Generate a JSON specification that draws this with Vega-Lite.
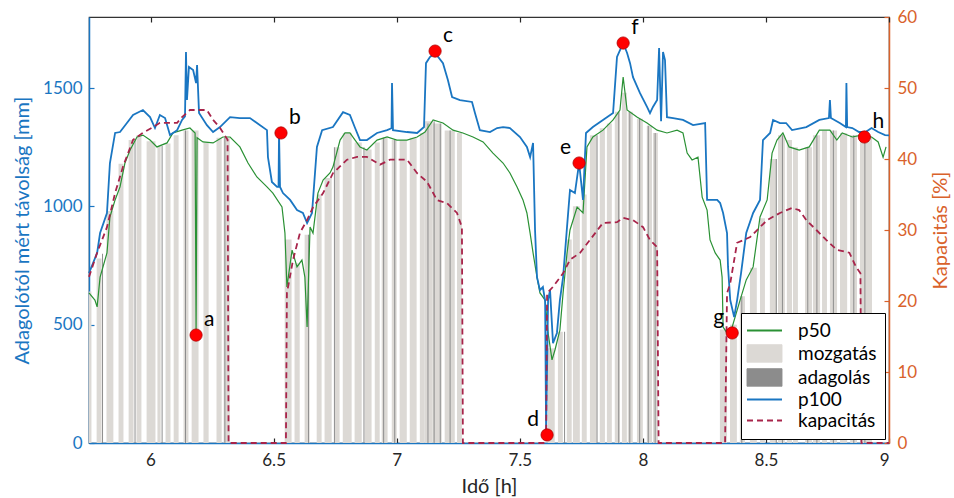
{
  "$schema": "https://vega.github.io/schema/vega-lite/v6.json",
  "width": 800,
  "height": 426,
  "autosize": {"type": "none"},
  "padding": {"left": 89, "top": 17, "right": 65, "bottom": 55},
  "background": "white",
  "config": {
    "font": "Lato",
    "view": {"stroke": "#333333", "strokeWidth": 1.2},
    "axis": {
      "grid": false,
      "labelFont": "Lato",
      "titleFont": "Lato",
      "labelFontSize": 17,
      "titleFontSize": 20,
      "titleFontWeight": "normal",
      "tickSize": -5,
      "tickWidth": 1.2,
      "domainWidth": 1.5,
      "zindex": 1
    }
  },
  "datasets": {
    "savok": [
      {"tipus": "mozgatás", "ido": 5.750, "ido2": 5.760, "tav": 640},
      {"tipus": "mozgatás", "ido": 5.781, "ido2": 5.801, "tav": 780},
      {"tipus": "mozgatás", "ido": 5.821, "ido2": 5.849, "tav": 980},
      {"tipus": "mozgatás", "ido": 5.870, "ido2": 5.890, "tav": 1180},
      {"tipus": "mozgatás", "ido": 5.911, "ido2": 5.931, "tav": 1280},
      {"tipus": "mozgatás", "ido": 5.943, "ido2": 5.963, "tav": 1300},
      {"tipus": "mozgatás", "ido": 5.984, "ido2": 6.020, "tav": 1275},
      {"tipus": "mozgatás", "ido": 6.028, "ido2": 6.041, "tav": 1255},
      {"tipus": "mozgatás", "ido": 6.061, "ido2": 6.081, "tav": 1265},
      {"tipus": "mozgatás", "ido": 6.094, "ido2": 6.114, "tav": 1300},
      {"tipus": "mozgatás", "ido": 6.134, "ido2": 6.154, "tav": 1320},
      {"tipus": "mozgatás", "ido": 6.167, "ido2": 6.195, "tav": 1320},
      {"tipus": "mozgatás", "ido": 6.215, "ido2": 6.236, "tav": 1270},
      {"tipus": "mozgatás", "ido": 6.268, "ido2": 6.289, "tav": 1290},
      {"tipus": "mozgatás", "ido": 6.297, "ido2": 6.322, "tav": 1290},
      {"tipus": "mozgatás", "ido": 6.545, "ido2": 6.573, "tav": 860},
      {"tipus": "mozgatás", "ido": 6.585, "ido2": 6.606, "tav": 760},
      {"tipus": "mozgatás", "ido": 6.626, "ido2": 6.646, "tav": 880},
      {"tipus": "mozgatás", "ido": 6.675, "ido2": 6.695, "tav": 1050},
      {"tipus": "mozgatás", "ido": 6.707, "ido2": 6.736, "tav": 1120},
      {"tipus": "mozgatás", "ido": 6.748, "ido2": 6.768, "tav": 1250},
      {"tipus": "mozgatás", "ido": 6.781, "ido2": 6.817, "tav": 1310},
      {"tipus": "mozgatás", "ido": 6.829, "ido2": 6.858, "tav": 1270},
      {"tipus": "mozgatás", "ido": 6.870, "ido2": 6.898, "tav": 1240},
      {"tipus": "mozgatás", "ido": 6.911, "ido2": 6.931, "tav": 1270},
      {"tipus": "mozgatás", "ido": 6.939, "ido2": 6.963, "tav": 1290},
      {"tipus": "mozgatás", "ido": 6.980, "ido2": 7.000, "tav": 1280},
      {"tipus": "mozgatás", "ido": 7.012, "ido2": 7.041, "tav": 1280},
      {"tipus": "mozgatás", "ido": 7.053, "ido2": 7.081, "tav": 1290},
      {"tipus": "mozgatás", "ido": 7.094, "ido2": 7.114, "tav": 1310},
      {"tipus": "mozgatás", "ido": 7.114, "ido2": 7.146, "tav": 1360},
      {"tipus": "mozgatás", "ido": 7.146, "ido2": 7.183, "tav": 1350},
      {"tipus": "mozgatás", "ido": 7.195, "ido2": 7.236, "tav": 1320},
      {"tipus": "mozgatás", "ido": 7.245, "ido2": 7.265, "tav": 1310},
      {"tipus": "mozgatás", "ido": 7.614, "ido2": 7.642, "tav": 400},
      {"tipus": "mozgatás", "ido": 7.655, "ido2": 7.675, "tav": 470},
      {"tipus": "mozgatás", "ido": 7.691, "ido2": 7.711, "tav": 860},
      {"tipus": "mozgatás", "ido": 7.716, "ido2": 7.744, "tav": 1000},
      {"tipus": "mozgatás", "ido": 7.752, "ido2": 7.772, "tav": 1050},
      {"tipus": "mozgatás", "ido": 7.785, "ido2": 7.813, "tav": 1300},
      {"tipus": "mozgatás", "ido": 7.825, "ido2": 7.846, "tav": 1330},
      {"tipus": "mozgatás", "ido": 7.854, "ido2": 7.874, "tav": 1350},
      {"tipus": "mozgatás", "ido": 7.886, "ido2": 7.907, "tav": 1400},
      {"tipus": "mozgatás", "ido": 7.915, "ido2": 7.935, "tav": 1480},
      {"tipus": "mozgatás", "ido": 7.939, "ido2": 7.959, "tav": 1400},
      {"tipus": "mozgatás", "ido": 7.976, "ido2": 8.000, "tav": 1370},
      {"tipus": "mozgatás", "ido": 8.016, "ido2": 8.037, "tav": 1340},
      {"tipus": "mozgatás", "ido": 8.041, "ido2": 8.061, "tav": 1310},
      {"tipus": "mozgatás", "ido": 8.313, "ido2": 8.342, "tav": 480},
      {"tipus": "mozgatás", "ido": 8.354, "ido2": 8.382, "tav": 500},
      {"tipus": "mozgatás", "ido": 8.394, "ido2": 8.415, "tav": 620},
      {"tipus": "mozgatás", "ido": 8.435, "ido2": 8.463, "tav": 740},
      {"tipus": "mozgatás", "ido": 8.476, "ido2": 8.496, "tav": 950},
      {"tipus": "mozgatás", "ido": 8.516, "ido2": 8.545, "tav": 1200},
      {"tipus": "mozgatás", "ido": 8.549, "ido2": 8.577, "tav": 1300},
      {"tipus": "mozgatás", "ido": 8.585, "ido2": 8.606, "tav": 1280},
      {"tipus": "mozgatás", "ido": 8.610, "ido2": 8.630, "tav": 1250},
      {"tipus": "mozgatás", "ido": 8.659, "ido2": 8.687, "tav": 1250},
      {"tipus": "mozgatás", "ido": 8.691, "ido2": 8.720, "tav": 1300},
      {"tipus": "mozgatás", "ido": 8.728, "ido2": 8.748, "tav": 1320},
      {"tipus": "mozgatás", "ido": 8.760, "ido2": 8.789, "tav": 1320},
      {"tipus": "mozgatás", "ido": 8.801, "ido2": 8.830, "tav": 1310},
      {"tipus": "mozgatás", "ido": 8.842, "ido2": 8.870, "tav": 1300},
      {"tipus": "mozgatás", "ido": 8.882, "ido2": 8.931, "tav": 1290},
      {"tipus": "adagolás", "ido": 5.803, "ido2": 5.807, "tav": 800},
      {"tipus": "adagolás", "ido": 5.935, "ido2": 5.939, "tav": 1280},
      {"tipus": "adagolás", "ido": 6.045, "ido2": 6.049, "tav": 1255},
      {"tipus": "adagolás", "ido": 6.140, "ido2": 6.144, "tav": 1320},
      {"tipus": "adagolás", "ido": 6.300, "ido2": 6.304, "tav": 1290},
      {"tipus": "adagolás", "ido": 6.640, "ido2": 6.644, "tav": 880},
      {"tipus": "adagolás", "ido": 6.745, "ido2": 6.749, "tav": 1250},
      {"tipus": "adagolás", "ido": 6.865, "ido2": 6.869, "tav": 1250},
      {"tipus": "adagolás", "ido": 6.945, "ido2": 6.949, "tav": 1290},
      {"tipus": "adagolás", "ido": 6.990, "ido2": 6.994, "tav": 1280},
      {"tipus": "adagolás", "ido": 7.125, "ido2": 7.129, "tav": 1350},
      {"tipus": "adagolás", "ido": 7.150, "ido2": 7.154, "tav": 1360},
      {"tipus": "adagolás", "ido": 7.175, "ido2": 7.179, "tav": 1350},
      {"tipus": "adagolás", "ido": 7.215, "ido2": 7.219, "tav": 1320},
      {"tipus": "adagolás", "ido": 7.680, "ido2": 7.684, "tav": 470},
      {"tipus": "adagolás", "ido": 7.812, "ido2": 7.816, "tav": 1300},
      {"tipus": "adagolás", "ido": 7.900, "ido2": 7.904, "tav": 1400},
      {"tipus": "adagolás", "ido": 7.945, "ido2": 7.949, "tav": 1400},
      {"tipus": "adagolás", "ido": 7.985, "ido2": 7.989, "tav": 1370},
      {"tipus": "adagolás", "ido": 8.020, "ido2": 8.024, "tav": 1340},
      {"tipus": "adagolás", "ido": 8.048, "ido2": 8.052, "tav": 1310},
      {"tipus": "adagolás", "ido": 8.400, "ido2": 8.404, "tav": 620},
      {"tipus": "adagolás", "ido": 8.540, "ido2": 8.544, "tav": 1200},
      {"tipus": "adagolás", "ido": 8.565, "ido2": 8.569, "tav": 1300},
      {"tipus": "adagolás", "ido": 8.668, "ido2": 8.672, "tav": 1250},
      {"tipus": "adagolás", "ido": 8.705, "ido2": 8.709, "tav": 1300},
      {"tipus": "adagolás", "ido": 8.772, "ido2": 8.776, "tav": 1320},
      {"tipus": "adagolás", "ido": 8.855, "ido2": 8.859, "tav": 1300},
      {"tipus": "adagolás", "ido": 8.900, "ido2": 8.904, "tav": 1290}
    ],
    "p50": [
      {"ido": 5.750, "tav": 634}, {"ido": 5.774, "tav": 604}, {"ido": 5.783, "tav": 575},
      {"ido": 5.795, "tav": 701}, {"ido": 5.823, "tav": 803}, {"ido": 5.835, "tav": 955},
      {"ido": 5.856, "tav": 1027}, {"ido": 5.876, "tav": 1082}, {"ido": 5.896, "tav": 1183},
      {"ido": 5.917, "tav": 1238}, {"ido": 5.945, "tav": 1293}, {"ido": 5.969, "tav": 1301},
      {"ido": 5.998, "tav": 1280}, {"ido": 6.026, "tav": 1251}, {"ido": 6.067, "tav": 1268},
      {"ido": 6.091, "tav": 1310}, {"ido": 6.128, "tav": 1322}, {"ido": 6.160, "tav": 1331},
      {"ido": 6.181, "tav": 1310}, {"ido": 6.185, "tav": 465}, {"ido": 6.189, "tav": 1290},
      {"ido": 6.213, "tav": 1272}, {"ido": 6.254, "tav": 1268}, {"ido": 6.294, "tav": 1293},
      {"ido": 6.323, "tav": 1293}, {"ido": 6.363, "tav": 1251}, {"ido": 6.396, "tav": 1183},
      {"ido": 6.432, "tav": 1124}, {"ido": 6.473, "tav": 1082}, {"ido": 6.497, "tav": 1056},
      {"ido": 6.534, "tav": 997}, {"ido": 6.546, "tav": 887}, {"ido": 6.554, "tav": 659},
      {"ido": 6.575, "tav": 815}, {"ido": 6.595, "tav": 744}, {"ido": 6.615, "tav": 773},
      {"ido": 6.627, "tav": 701}, {"ido": 6.636, "tav": 490}, {"ido": 6.648, "tav": 913},
      {"ido": 6.660, "tav": 887}, {"ido": 6.680, "tav": 1056}, {"ido": 6.701, "tav": 1111},
      {"ido": 6.729, "tav": 1141}, {"ido": 6.741, "tav": 1166}, {"ido": 6.770, "tav": 1280},
      {"ido": 6.790, "tav": 1310}, {"ido": 6.810, "tav": 1310}, {"ido": 6.831, "tav": 1280},
      {"ido": 6.851, "tav": 1251}, {"ido": 6.879, "tav": 1238}, {"ido": 6.920, "tav": 1280},
      {"ido": 6.961, "tav": 1293}, {"ido": 7.001, "tav": 1280}, {"ido": 7.042, "tav": 1280},
      {"ido": 7.083, "tav": 1293}, {"ido": 7.115, "tav": 1314}, {"ido": 7.148, "tav": 1365},
      {"ido": 7.188, "tav": 1352}, {"ido": 7.229, "tav": 1322}, {"ido": 7.269, "tav": 1310},
      {"ido": 7.310, "tav": 1293}, {"ido": 7.351, "tav": 1272}, {"ido": 7.391, "tav": 1225},
      {"ido": 7.432, "tav": 1183}, {"ido": 7.460, "tav": 1141}, {"ido": 7.489, "tav": 1082},
      {"ido": 7.513, "tav": 1027}, {"ido": 7.529, "tav": 972}, {"ido": 7.542, "tav": 887},
      {"ido": 7.554, "tav": 803}, {"ido": 7.570, "tav": 701}, {"ido": 7.582, "tav": 634},
      {"ido": 7.603, "tav": 604}, {"ido": 7.615, "tav": 465}, {"ido": 7.631, "tav": 351},
      {"ido": 7.643, "tav": 393}, {"ido": 7.663, "tav": 477}, {"ido": 7.676, "tav": 634},
      {"ido": 7.692, "tav": 803}, {"ido": 7.704, "tav": 900}, {"ido": 7.733, "tav": 997},
      {"ido": 7.757, "tav": 972}, {"ido": 7.773, "tav": 1251}, {"ido": 7.797, "tav": 1293},
      {"ido": 7.838, "tav": 1322}, {"ido": 7.879, "tav": 1365}, {"ido": 7.907, "tav": 1407},
      {"ido": 7.920, "tav": 1546}, {"ido": 7.936, "tav": 1407}, {"ido": 7.976, "tav": 1377},
      {"ido": 8.017, "tav": 1352}, {"ido": 8.058, "tav": 1322}, {"ido": 8.098, "tav": 1310},
      {"ido": 8.139, "tav": 1322}, {"ido": 8.163, "tav": 1310}, {"ido": 8.180, "tav": 1225},
      {"ido": 8.200, "tav": 1196}, {"ido": 8.224, "tav": 1208}, {"ido": 8.241, "tav": 1039},
      {"ido": 8.261, "tav": 984}, {"ido": 8.273, "tav": 858}, {"ido": 8.294, "tav": 803},
      {"ido": 8.314, "tav": 773}, {"ido": 8.322, "tav": 701}, {"ido": 8.326, "tav": 490},
      {"ido": 8.342, "tav": 465}, {"ido": 8.363, "tav": 490}, {"ido": 8.395, "tav": 604},
      {"ido": 8.420, "tav": 689}, {"ido": 8.448, "tav": 744}, {"ido": 8.476, "tav": 955},
      {"ido": 8.505, "tav": 1027}, {"ido": 8.525, "tav": 1225}, {"ido": 8.545, "tav": 1280},
      {"ido": 8.569, "tav": 1310}, {"ido": 8.594, "tav": 1251}, {"ido": 8.635, "tav": 1238},
      {"ido": 8.676, "tav": 1251}, {"ido": 8.717, "tav": 1322}, {"ido": 8.760, "tav": 1322},
      {"ido": 8.788, "tav": 1280}, {"ido": 8.810, "tav": 1310}, {"ido": 8.851, "tav": 1293},
      {"ido": 8.888, "tav": 1301}, {"ido": 8.929, "tav": 1293}, {"ido": 8.956, "tav": 1272},
      {"ido": 8.976, "tav": 1208}, {"ido": 8.988, "tav": 1251}
    ],
    "p100": [
      {"ido": 5.750, "tav": 718}, {"ido": 5.783, "tav": 803}, {"ido": 5.795, "tav": 887},
      {"ido": 5.823, "tav": 972}, {"ido": 5.835, "tav": 1183}, {"ido": 5.856, "tav": 1310},
      {"ido": 5.876, "tav": 1314}, {"ido": 5.904, "tav": 1352}, {"ido": 5.929, "tav": 1386},
      {"ido": 5.969, "tav": 1407}, {"ido": 5.998, "tav": 1377}, {"ido": 6.018, "tav": 1331},
      {"ido": 6.038, "tav": 1386}, {"ido": 6.059, "tav": 1373}, {"ido": 6.079, "tav": 1301},
      {"ido": 6.108, "tav": 1322}, {"ido": 6.128, "tav": 1365}, {"ido": 6.140, "tav": 1380},
      {"ido": 6.144, "tav": 1652}, {"ido": 6.148, "tav": 1449}, {"ido": 6.156, "tav": 1589},
      {"ido": 6.173, "tav": 1576}, {"ido": 6.185, "tav": 1521}, {"ido": 6.189, "tav": 1597},
      {"ido": 6.197, "tav": 1394}, {"ido": 6.229, "tav": 1343}, {"ido": 6.254, "tav": 1314},
      {"ido": 6.282, "tav": 1335}, {"ido": 6.323, "tav": 1377}, {"ido": 6.363, "tav": 1373},
      {"ido": 6.404, "tav": 1373}, {"ido": 6.445, "tav": 1343}, {"ido": 6.473, "tav": 1322},
      {"ido": 6.477, "tav": 1208}, {"ido": 6.493, "tav": 1103}, {"ido": 6.514, "tav": 1082},
      {"ido": 6.520, "tav": 1082}, {"ido": 6.522, "tav": 1310}, {"ido": 6.526, "tav": 1082},
      {"ido": 6.538, "tav": 1056}, {"ido": 6.567, "tav": 1027}, {"ido": 6.595, "tav": 984},
      {"ido": 6.619, "tav": 972}, {"ido": 6.636, "tav": 929}, {"ido": 6.656, "tav": 972},
      {"ido": 6.676, "tav": 1251}, {"ido": 6.697, "tav": 1322}, {"ido": 6.741, "tav": 1335},
      {"ido": 6.782, "tav": 1398}, {"ido": 6.810, "tav": 1386}, {"ido": 6.831, "tav": 1331},
      {"ido": 6.851, "tav": 1280}, {"ido": 6.879, "tav": 1280}, {"ido": 6.920, "tav": 1310},
      {"ido": 6.961, "tav": 1322}, {"ido": 6.979, "tav": 1330}, {"ido": 6.981, "tav": 1521},
      {"ido": 6.985, "tav": 1322}, {"ido": 7.042, "tav": 1314}, {"ido": 7.083, "tav": 1310},
      {"ido": 7.111, "tav": 1335}, {"ido": 7.119, "tav": 1605}, {"ido": 7.135, "tav": 1631},
      {"ido": 7.156, "tav": 1648}, {"ido": 7.188, "tav": 1605}, {"ido": 7.208, "tav": 1534},
      {"ido": 7.225, "tav": 1462}, {"ido": 7.257, "tav": 1449}, {"ido": 7.306, "tav": 1441},
      {"ido": 7.318, "tav": 1394}, {"ido": 7.338, "tav": 1322}, {"ido": 7.379, "tav": 1314},
      {"ido": 7.408, "tav": 1331}, {"ido": 7.432, "tav": 1335}, {"ido": 7.460, "tav": 1331},
      {"ido": 7.501, "tav": 1293}, {"ido": 7.529, "tav": 1251}, {"ido": 7.542, "tav": 1208},
      {"ido": 7.554, "tav": 1268}, {"ido": 7.562, "tav": 900}, {"ido": 7.570, "tav": 701},
      {"ido": 7.582, "tav": 646}, {"ido": 7.594, "tav": 659}, {"ido": 7.603, "tav": 600},
      {"ido": 7.607, "tav": 42}, {"ido": 7.615, "tav": 604}, {"ido": 7.623, "tav": 646},
      {"ido": 7.635, "tav": 422}, {"ido": 7.651, "tav": 465}, {"ido": 7.663, "tav": 604},
      {"ido": 7.676, "tav": 701}, {"ido": 7.692, "tav": 913}, {"ido": 7.704, "tav": 1069},
      {"ido": 7.724, "tav": 1056}, {"ido": 7.741, "tav": 1183}, {"ido": 7.757, "tav": 1027},
      {"ido": 7.769, "tav": 1310}, {"ido": 7.797, "tav": 1335}, {"ido": 7.838, "tav": 1365},
      {"ido": 7.879, "tav": 1394}, {"ido": 7.895, "tav": 1631}, {"ido": 7.920, "tav": 1690},
      {"ido": 7.936, "tav": 1648}, {"ido": 7.948, "tav": 1605}, {"ido": 7.960, "tav": 1546},
      {"ido": 7.988, "tav": 1479}, {"ido": 8.017, "tav": 1420}, {"ido": 8.029, "tav": 1394},
      {"ido": 8.041, "tav": 1420}, {"ido": 8.058, "tav": 1449}, {"ido": 8.066, "tav": 1669},
      {"ido": 8.074, "tav": 1360}, {"ido": 8.082, "tav": 1652}, {"ido": 8.090, "tav": 1618},
      {"ido": 8.098, "tav": 1377}, {"ido": 8.123, "tav": 1373}, {"ido": 8.163, "tav": 1365},
      {"ido": 8.204, "tav": 1343}, {"ido": 8.253, "tav": 1352}, {"ido": 8.261, "tav": 1027},
      {"ido": 8.302, "tav": 1027}, {"ido": 8.314, "tav": 1014}, {"ido": 8.326, "tav": 972},
      {"ido": 8.342, "tav": 887}, {"ido": 8.346, "tav": 744}, {"ido": 8.355, "tav": 604},
      {"ido": 8.371, "tav": 532}, {"ido": 8.383, "tav": 604}, {"ido": 8.399, "tav": 718},
      {"ido": 8.420, "tav": 887}, {"ido": 8.448, "tav": 972}, {"ido": 8.476, "tav": 1027},
      {"ido": 8.488, "tav": 1280}, {"ido": 8.517, "tav": 1310}, {"ido": 8.529, "tav": 1365},
      {"ido": 8.557, "tav": 1352}, {"ido": 8.582, "tav": 1352}, {"ido": 8.606, "tav": 1322},
      {"ido": 8.664, "tav": 1335}, {"ido": 8.717, "tav": 1365}, {"ido": 8.756, "tav": 1373},
      {"ido": 8.760, "tav": 1449}, {"ido": 8.764, "tav": 1373}, {"ido": 8.800, "tav": 1352},
      {"ido": 8.825, "tav": 1335}, {"ido": 8.827, "tav": 1521}, {"ido": 8.830, "tav": 1335},
      {"ido": 8.851, "tav": 1331}, {"ido": 8.878, "tav": 1314}, {"ido": 8.905, "tav": 1314},
      {"ido": 8.929, "tav": 1331}, {"ido": 8.956, "tav": 1314}, {"ido": 8.984, "tav": 1301},
      {"ido": 9.000, "tav": 1300}
    ],
    "kapacitas": [
      {"ido": 5.750, "kap": 23.4}, {"ido": 5.783, "kap": 26.8}, {"ido": 5.823, "kap": 30.4},
      {"ido": 5.856, "kap": 35.2}, {"ido": 5.888, "kap": 38.9}, {"ido": 5.929, "kap": 42.7},
      {"ido": 5.969, "kap": 43.7}, {"ido": 6.006, "kap": 44.4}, {"ido": 6.038, "kap": 45.1},
      {"ido": 6.108, "kap": 45.1}, {"ido": 6.128, "kap": 45.9}, {"ido": 6.160, "kap": 46.9},
      {"ido": 6.229, "kap": 46.9}, {"ido": 6.254, "kap": 45.5}, {"ido": 6.282, "kap": 44.4},
      {"ido": 6.313, "kap": 42.7}, {"ido": 6.317, "kap": 0}, {"ido": 6.550, "kap": 0},
      {"ido": 6.554, "kap": 21.1}, {"ido": 6.579, "kap": 25.8}, {"ido": 6.607, "kap": 29.6},
      {"ido": 6.636, "kap": 31.4}, {"ido": 6.660, "kap": 33.2}, {"ido": 6.701, "kap": 35.2},
      {"ido": 6.741, "kap": 38.0}, {"ido": 6.798, "kap": 39.9}, {"ido": 6.839, "kap": 40.3},
      {"ido": 6.879, "kap": 40.3}, {"ido": 6.932, "kap": 39.2}, {"ido": 6.973, "kap": 39.9},
      {"ido": 7.042, "kap": 39.9}, {"ido": 7.083, "kap": 38.0}, {"ido": 7.123, "kap": 36.8},
      {"ido": 7.164, "kap": 34.2}, {"ido": 7.204, "kap": 33.8}, {"ido": 7.245, "kap": 32.4},
      {"ido": 7.265, "kap": 30.4}, {"ido": 7.269, "kap": 0}, {"ido": 7.607, "kap": 0},
      {"ido": 7.611, "kap": 21.1}, {"ido": 7.635, "kap": 22.0}, {"ido": 7.676, "kap": 23.9},
      {"ido": 7.704, "kap": 25.8}, {"ido": 7.745, "kap": 26.8}, {"ido": 7.785, "kap": 28.6},
      {"ido": 7.838, "kap": 31.0}, {"ido": 7.895, "kap": 31.1}, {"ido": 7.920, "kap": 31.7},
      {"ido": 7.960, "kap": 31.4}, {"ido": 8.001, "kap": 30.4}, {"ido": 8.029, "kap": 28.6},
      {"ido": 8.058, "kap": 27.6}, {"ido": 8.064, "kap": 0}, {"ido": 8.334, "kap": 0},
      {"ido": 8.342, "kap": 21.1}, {"ido": 8.355, "kap": 22.5}, {"ido": 8.383, "kap": 28.2},
      {"ido": 8.436, "kap": 29.0}, {"ido": 8.476, "kap": 30.4}, {"ido": 8.505, "kap": 31.4},
      {"ido": 8.557, "kap": 32.4}, {"ido": 8.606, "kap": 33.1}, {"ido": 8.635, "kap": 32.8},
      {"ido": 8.664, "kap": 31.4}, {"ido": 8.705, "kap": 30.0}, {"ido": 8.745, "kap": 28.6},
      {"ido": 8.788, "kap": 27.2}, {"ido": 8.839, "kap": 26.8}, {"ido": 8.866, "kap": 24.8},
      {"ido": 8.884, "kap": 23.9}, {"ido": 8.888, "kap": 0}, {"ido": 9.000, "kap": 0}
    ],
    "pontok": [
      {"pont": "a", "ido": 6.185, "tav": 456},
      {"pont": "b", "ido": 6.530, "tav": 1310},
      {"pont": "c", "ido": 7.156, "tav": 1656},
      {"pont": "d", "ido": 7.611, "tav": 34},
      {"pont": "e", "ido": 7.741, "tav": 1183},
      {"pont": "f", "ido": 7.920, "tav": 1690},
      {"pont": "g", "ido": 8.363, "tav": 465},
      {"pont": "h", "ido": 8.900, "tav": 1293}
    ]
  },
  "resolve": {"scale": {"y": "independent"}, "axis": {"x": "independent"}},
  "layer": [
    {
      "data": {"name": "savok"},
      "mark": {"type": "rect"},
      "encoding": {
        "x": {
          "field": "ido", "type": "quantitative",
          "scale": {"domain": [5.75, 9], "nice": false, "zero": false},
          "axis": {
            "orient": "bottom",
            "title": "Idő [h]", "values": [6, 6.5, 7, 7.5, 8, 8.5, 9], "format": "~g",
            "labelColor": "#262626", "titleColor": "#262626", "tickColor": "#262626",
            "domainColor": "#1a76c2", "labelPadding": 14, "titlePadding": 8
          }
        },
        "x2": {"field": "ido2"},
        "y": {
          "field": "tav", "type": "quantitative",
          "scale": {"domain": [0, 1800], "nice": false},
          "axis": {
            "orient": "left",
            "title": "Adagolótól mért távolság [mm]", "values": [0, 500, 1000, 1500], "format": "d",
            "labelColor": "#1a76c2", "titleColor": "#1a76c2", "tickColor": "#1a76c2",
            "domainColor": "#1a76c2", "labelPadding": 12, "titlePadding": 10
          }
        },
        "y2": {"datum": 0},
        "color": {
          "field": "tipus", "type": "nominal",
          "scale": {
            "domain": ["p50", "mozgatás", "adagolás", "p100", "kapacitás"],
            "range": ["#2a9134", "#dcd9d5", "#8c8c8c", "#1a76c2", "#a8244a"]
          },
          "legend": {
            "title": null,
            "orient": "bottom-right",
            "offset": 4,
            "strokeColor": "#000000",
            "fillColor": "#ffffff",
            "padding": 8,
            "rowPadding": 1,
            "labelFont": "Lato",
            "labelFontSize": 19,
            "labelColor": "#000000",
            "labelOffset": 24,
            "symbolOffset": 6,
            "symbolSize": 1225,
            "symbolType": "square",
            "encode": {
              "symbols": {
                "update": {
                  "shape": {"signal": "datum.value === 'mozgatás' || datum.value === 'adagolás' ? 'M-1,-0.5H1V0.5H-1Z' : 'M-1,0H1'"},
                  "fill": {"signal": "datum.value === 'mozgatás' ? '#dcd9d5' : datum.value === 'adagolás' ? '#8c8c8c' : 'transparent'"},
                  "stroke": {"signal": "datum.value === 'mozgatás' ? '#a0a0a0' : datum.value === 'adagolás' ? '#777777' : datum.value === 'p50' ? '#2a9134' : datum.value === 'p100' ? '#1a76c2' : '#a8244a'"},
                  "strokeDash": {"signal": "datum.value === 'kapacitás' ? [6, 4] : [1, 0]"},
                  "strokeWidth": {"signal": "datum.value === 'mozgatás' || datum.value === 'adagolás' ? 1 : 2"},
                  "opacity": {"value": 1}
                }
              }
            }
          }
        }
      }
    },
    {
      "data": {"name": "p50"},
      "mark": {"type": "line", "strokeWidth": 1.2},
      "encoding": {
        "x": {"field": "ido", "type": "quantitative", "axis": null},
        "y": {"field": "tav", "type": "quantitative", "scale": {"domain": [0, 1800], "nice": false}, "axis": null},
        "color": {"datum": "p50", "type": "nominal", "legend": null}
      }
    },
    {
      "data": {"name": "p100"},
      "mark": {"type": "line", "strokeWidth": 1.8},
      "encoding": {
        "x": {"field": "ido", "type": "quantitative", "axis": null},
        "y": {"field": "tav", "type": "quantitative", "scale": {"domain": [0, 1800], "nice": false}, "axis": null},
        "color": {"datum": "p100", "type": "nominal", "legend": null}
      }
    },
    {
      "data": {"name": "kapacitas"},
      "mark": {"type": "line", "strokeWidth": 1.8, "strokeDash": [6, 4]},
      "encoding": {
        "x": {"field": "ido", "type": "quantitative", "axis": null},
        "y": {
          "field": "kap", "type": "quantitative",
          "scale": {"domain": [0, 60], "nice": false},
          "axis": {
            "orient": "right", "title": "Kapacitás [%]", "values": [0, 10, 20, 30, 40, 50, 60],
            "labelColor": "#d9622b", "titleColor": "#d9622b", "tickColor": "#d9622b",
            "domainColor": "#d9622b", "labelPadding": 13, "titlePadding": 14,
            "titleAngle": 270, "titleBaseline": "top"
          }
        },
        "color": {"datum": "kapacitás", "type": "nominal", "legend": null}
      }
    },
    {
      "data": {"name": "pontok"},
      "mark": {"type": "circle", "size": 150, "fill": "#ff0000", "stroke": "#b00000", "strokeWidth": 0.8, "opacity": 1},
      "encoding": {
        "x": {
          "field": "ido", "type": "quantitative",
          "axis": {"orient": "top", "labels": false, "title": null, "domain": false, "values": [6, 6.5, 7, 7.5, 8, 8.5, 9], "tickColor": "#262626", "tickSize": -5, "zindex": 1}
        },
        "y": {"field": "tav", "type": "quantitative", "scale": {"domain": [0, 1800], "nice": false}, "axis": null}
      }
    },
    {
      "data": {"name": "pontok"},
      "transform": [{"filter": "indexof(['d', 'e', 'g'], datum.pont) < 0"}],
      "mark": {"type": "text", "align": "left", "baseline": "middle", "dx": 8, "dy": -15, "fontSize": 21, "font": "Lato", "color": "#000000"},
      "encoding": {
        "x": {"field": "ido", "type": "quantitative", "axis": null},
        "y": {"field": "tav", "type": "quantitative", "scale": {"domain": [0, 1800], "nice": false}, "axis": null},
        "text": {"field": "pont"}
      }
    },
    {
      "data": {"name": "pontok"},
      "transform": [{"filter": "indexof(['d', 'e', 'g'], datum.pont) >= 0"}],
      "mark": {"type": "text", "align": "right", "baseline": "middle", "dx": -8, "dy": -15, "fontSize": 21, "font": "Lato", "color": "#000000"},
      "encoding": {
        "x": {"field": "ido", "type": "quantitative", "axis": null},
        "y": {"field": "tav", "type": "quantitative", "scale": {"domain": [0, 1800], "nice": false}, "axis": null},
        "text": {"field": "pont"}
      }
    }
  ]
}
